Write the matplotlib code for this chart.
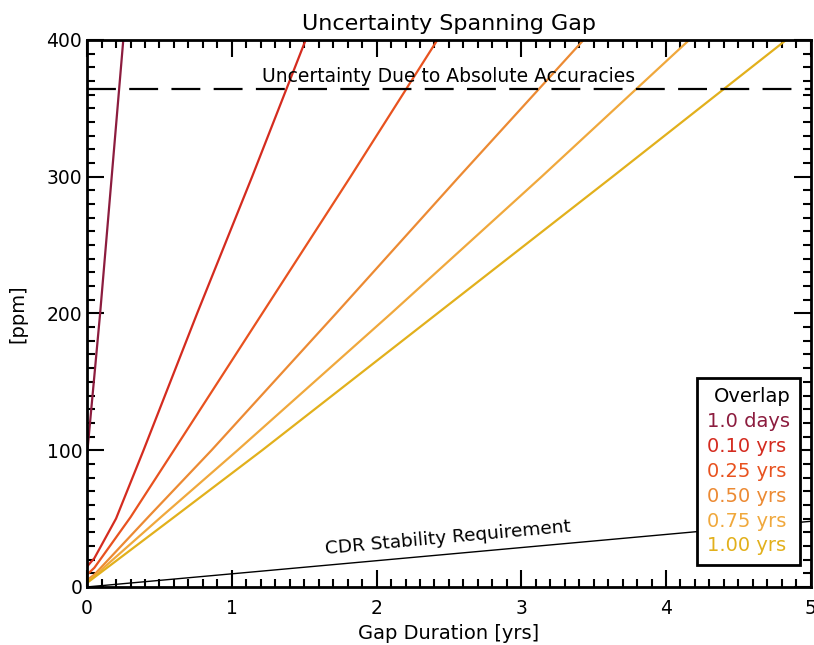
import matplotlib
matplotlib.use('Agg')
import matplotlib.pyplot as plt
from matplotlib.lines import Line2D
from matplotlib.ticker import MultipleLocator

# overlap curves: gap duration [yrs] vs uncertainty [ppm]
labels = ['1.0 days', '0.10 yrs', '0.25 yrs', '0.50 yrs', '0.75 yrs', '1.00 yrs']
colors = ['#8c1c3e', '#d42b1f', '#e8521f', '#ec8a33', '#f0a83c', '#e2b01c']

gap_1d = [0.0, 0.09, 0.17, 0.25]
ppm_1d = [97, 200, 300, 400]
gap_010 = [0.0, 0.05, 0.20, 0.39, 0.76, 1.14, 1.51]
ppm_010 = [15, 21, 50, 100, 200, 300, 400]
gap_025 = [0.0, 0.05, 0.30, 0.60, 1.21, 1.82, 2.42]
ppm_025 = [9, 14, 51, 100, 200, 300, 400]
gap_050 = [0.0, 0.05, 0.43, 0.86, 1.72, 2.57, 3.43]
ppm_050 = [5, 9, 52, 100, 200, 300, 400]
gap_075 = [0.0, 0.05, 0.52, 1.04, 2.10, 3.14, 4.16]
ppm_075 = [4, 8, 52, 100, 200, 300, 400]
gap_100 = [0.0, 0.05, 0.60, 1.21, 2.42, 3.63, 4.83]
ppm_100 = [3, 7, 51, 100, 200, 300, 400]

cdr_gap = [0.0, 5.0]
cdr_ppm = [0.0, 48.0]
abs_accuracy = 364

curves = [(gap_1d, ppm_1d), (gap_010, ppm_010), (gap_025, ppm_025),
          (gap_050, ppm_050), (gap_075, ppm_075), (gap_100, ppm_100)]

plt.rcParams['font.family'] = 'DejaVu Sans'

fig = plt.figure(figsize=(8.14, 6.45), dpi=100)
ax = fig.add_axes([0.107, 0.09, 0.889, 0.848])

for (x, y), c in zip(curves, colors):
    ax.plot(x, y, color=c, lw=1.6, solid_capstyle='butt')

ax.plot(cdr_gap, cdr_ppm, color='black', lw=1.0)
ax.axhline(abs_accuracy, color='black', lw=1.6, dashes=(13, 6))

ax.text(2.5, abs_accuracy + 2, 'Uncertainty Due to Absolute Accuracies',
        ha='center', va='bottom', fontsize=13.5)
ax.text(2.5, 29, 'CDR Stability Requirement', ha='center', va='bottom',
        fontsize=13.3, rotation=5.2, rotation_mode='anchor')

ax.set_xlim(0, 5)
ax.set_ylim(0, 400)
ax.xaxis.set_major_locator(MultipleLocator(1))
ax.xaxis.set_minor_locator(MultipleLocator(0.1))
ax.yaxis.set_major_locator(MultipleLocator(100))
ax.yaxis.set_minor_locator(MultipleLocator(10))
ax.tick_params(which='both', direction='in', top=True, right=True, width=1.5,
               labelsize=13.5)
ax.tick_params(which='major', length=12)
ax.tick_params(which='minor', length=6)
ax.tick_params(axis='x', which='major', pad=9)
for s in ax.spines.values():
    s.set_linewidth(2)

ax.set_xlabel('Gap Duration [yrs]', fontsize=14, labelpad=4)
ax.set_ylabel('[ppm]', fontsize=14, labelpad=14)
ax.set_title('Uncertainty Spanning Gap', fontsize=16, pad=7)

handles = [Line2D([], [], color=c, lw=0) for c in colors]
leg = ax.legend(handles, labels, title='Overlap', loc='lower right',
                bbox_to_anchor=(0.985, 0.04), fontsize=14, title_fontsize=14,
                handlelength=0, handletextpad=0, labelspacing=0.3,
                fancybox=False, framealpha=1, edgecolor='black',
                borderpad=0.5, borderaxespad=0, alignment='right')
leg.get_frame().set_linewidth(2)
for t, c in zip(leg.get_texts(), colors):
    t.set_color(c)

fig.savefig('out.png', dpi=100)
